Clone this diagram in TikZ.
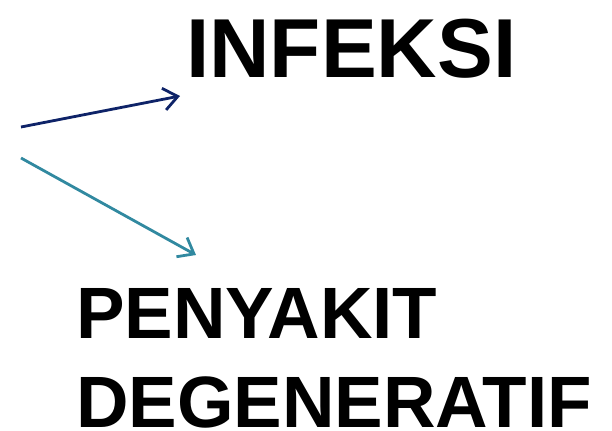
\documentclass[tikz,border=0pt]{standalone}
\usepackage{fontspec}
\setmainfont{Liberation Sans}
\usetikzlibrary{arrows.meta}
\definecolor{arrownavy}{RGB}{14,35,104}
\definecolor{arrowteal}{RGB}{49,137,160}
\begin{document}
\begin{tikzpicture}[x=1bp,y=-1bp,
  word/.style={anchor=base west,inner sep=0pt,font=\fontsize{84}{88}\selectfont\bfseries},
  subword/.style={word,font=\fontsize{73}{88}\selectfont\bfseries},
  pointer/.style={line width=2.8bp,-{Straight Barb[length=14bp,width=22bp,line width=2.8bp]}}]
  \useasboundingbox (0,0) rectangle (612,430);
  \node[word] (inf) at (186,77) {INFEKSI};
  \node[subword] (pen) at (76,338) {PENYAKIT};
  \node[subword] (deg) at (76,427) {DEGENERATIF};
  \coordinate (s1) at (21,127);
  \coordinate (e1) at (180,96);
  \coordinate (s2) at (21,158);
  \coordinate (e2) at (196,255);
  \draw[pointer,arrownavy] (s1) -- (e1);
  \draw[pointer,arrowteal] (s2) -- (e2);
\end{tikzpicture}
\end{document}
